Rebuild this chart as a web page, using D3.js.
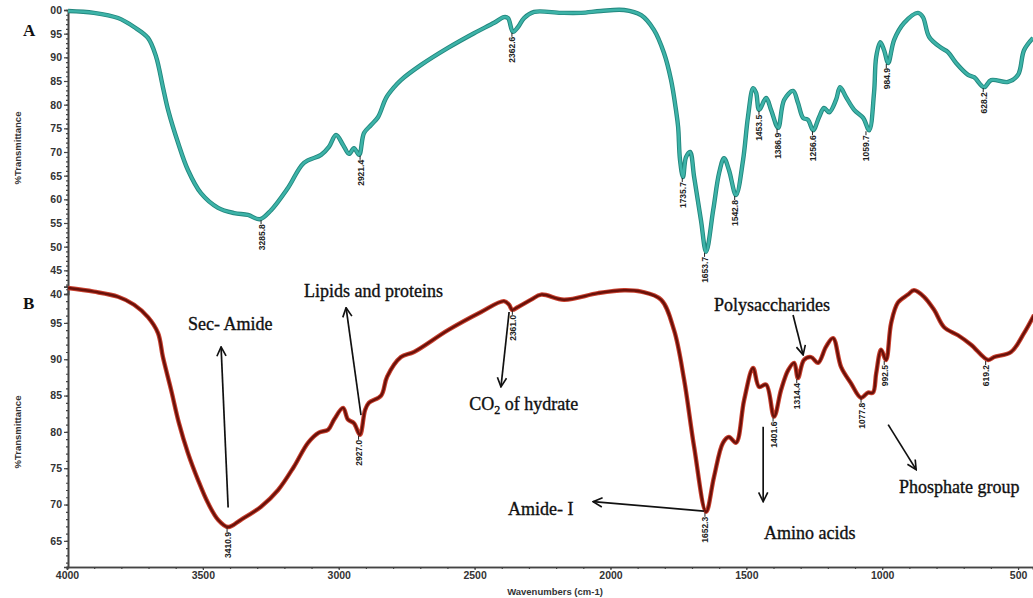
<!DOCTYPE html>
<html>
<head>
<meta charset="utf-8">
<script src="https://cdn.jsdelivr.net/npm/d3@7"></script>
<style>
  body { margin: 0; background: #fff; }
  svg { display: block; }
</style>
</head>
<body>
<div id="chart"></div>
<script>
// spectrum A : [wavenumber, %T]
const spectrumA = [
  [3996,99.8],[3901,99.4],[3812,98.3],[3753,96.4],[3702,94.1],[3672,90.1],[3647,83.7],[3628,78.9],
  [3591,71.9],[3555,66.2],[3507,61.3],[3444,58.2],[3385,57.1],[3334,56.7],[3290,55.8],[3249,57.7],
  [3187,62.4],[3128,67.7],[3065,69.4],[3036,71.1],[3010,73.6],[2984,71.5],[2962,69.6],[2944,70.8],
  [2925,69.4],[2907,74.0],[2881,75.7],[2855,77.4],[2826,81.4],[2796,83.7],[2771,85.2],[2697,88.4],
  [2598,92.0],[2502,95.1],[2428,97.3],[2392,98.5],[2377,98.3],[2359,95.4],[2340,96.4],[2318,98.3],
  [2281,99.6],[2182,99.4],[2108,99.4],[2035,99.8],[1950,100],[1887,98.9],[1840,95.8],[1803,90.9],
  [1777,85.2],[1759,78.9],[1751,75.3],[1744,68.3],[1733,64.7],[1722,68.9],[1707,70.0],[1692,64.7],
  [1667,55.6],[1648,48.9],[1622,57.7],[1600,65.6],[1582,68.7],[1564,66.2],[1538,60.9],[1512,68.3],
  [1494,77.4],[1475,83.5],[1464,82.5],[1453,78.9],[1427,81.4],[1409,78.9],[1383,75.1],[1361,81.0],
  [1328,82.9],[1310,80.4],[1291,77.2],[1273,76.8],[1254,74.6],[1232,77.4],[1214,79.3],[1195,78.4],
  [1170,81.0],[1155,83.7],[1133,81.6],[1103,78.9],[1070,77.2],[1048,74.6],[1030,82.5],[1022,90.1],
  [1007,93.2],[993,91.5],[978,88.8],[956,93.7],[919,97.3],[868,99.4],[850,98.5],[827,94.3],
  [783,92.0],[758,91.1],[728,88.8],[684,86.3],[662,85.8],[625,83.7],[599,85.2],[537,84.8],
  [500,86.3],[478,91.5],[445,94.1]
];

// spectrum B : [wavenumber, %T]
const spectrumB = [
  [3996,99.8],[3901,99.3],[3812,98.6],[3753,97.5],[3702,95.8],[3665,93.6],[3647,90.3],[3617,85.8],
  [3588,81.2],[3555,77.1],[3518,73.4],[3481,70.2],[3444,67.9],[3407,66.9],[3360,67.9],[3286,69.7],
  [3223,72.0],[3165,75.2],[3113,78.5],[3073,79.9],[3039,80.3],[3017,81.7],[2984,83.3],[2966,81.7],
  [2944,81.2],[2922,79.6],[2903,83.0],[2889,84.0],[2844,85.0],[2822,87.6],[2771,90.3],[2723,91.0],
  [2598,94.0],[2476,96.5],[2392,98.0],[2373,97.5],[2362,96.8],[2340,97.2],[2292,98.2],[2255,98.9],
  [2171,98.2],[2046,99.1],[1950,99.5],[1887,99.3],[1814,98.2],[1766,94.0],[1729,87.2],[1692,77.9],
  [1648,69.0],[1619,73.8],[1586,78.5],[1564,79.3],[1538,78.5],[1508,84.4],[1475,88.8],[1453,86.2],
  [1427,86.5],[1398,82.1],[1372,85.8],[1346,88.5],[1324,89.5],[1310,87.4],[1288,89.9],[1262,90.3],
  [1236,89.5],[1207,91.7],[1181,92.9],[1151,88.9],[1115,86.7],[1078,84.7],[1052,85.4],[1034,85.4],
  [1022,88.1],[1004,91.3],[986,89.9],[967,95.0],[942,97.8],[905,98.9],[883,99.5],[846,98.6],
  [809,96.8],[772,94.4],[721,93.3],[673,92.0],[610,89.9],[588,90.3],[526,91.0],[478,93.6],[441,96.1]
];

// labelled minima : [wavenumber, %T]
const peaksA = [
  [3285.8,55.8],[2921.4,69.4],[2362.6,95.4],[1735.7,64.7],[1653.7,48.9],[1542.8,60.9],
  [1453.5,78.9],[1386.9,75.1],[1256.6,74.6],[1059.7,74.6],[984.9,88.8],[628.2,83.7]
];
const peaksB = [
  [3410.9,66.9],[2927.0,79.6],[2361.0,96.8],[1652.3,69.0],[1401.6,82.1],[1314.4,87.4],
  [1077.8,84.7],[992.5,89.9],[619.2,89.9]
];

// annotations on B : label, text position, arrow from, arrow to  (wavenumber, %T)
const notesB = [
  {text: "Sec- Amide",          at: [3555, 94.0], from: [3407, 69.6], to: [3433, 91.7]},
  {text: "Lipids and proteins", at: [3128, 98.6], from: [2918, 82.3], to: [2973, 97.1]},
  {text: "CO2 of hydrate",      at: [2520, 83.0], from: [2373, 96.5], to: [2403, 86.2]},
  {text: "Amide- I",            at: [2377, 68.6], from: [1656, 69.1], to: [2064, 70.4]},
  {text: "Amino acids",         at: [1435, 65.2], from: [1438, 80.7], to: [1438, 70.4]},
  {text: "Polysaccharides",     at: [1619, 96.7], from: [1328, 96.1], to: [1291, 90.6]},
  {text: "Phosphate group",     at: [938, 71.6],  from: [978, 81.0],  to: [875, 74.8]}
];

const xMajor = d3.range(500, 4001, 500);
const xMinor = d3.range(500, 4001, 100);
const yTicksA = d3.range(40, 101, 5);
const yTicksB = d3.range(65, 96, 5);

const W = 1033, H = 598;
const svg = d3.select("#chart").append("svg")
    .attr("width", W)
    .attr("height", H);

const x = d3.scaleLinear().domain([4000, 445]).range([67, 1033]);
const yA = d3.scaleLinear().domain([40, 100]).range([294, 10]);
const yB = d3.scaleLinear().domain([61.4, 100]).range([567, 286.6]);

const tickFont = "'Liberation Sans', Arial, sans-serif";
const serif = "'Liberation Serif', 'Times New Roman', serif";

// ---- axes
function styleAxis(g) {
    g.select(".domain").attr("stroke", "#444").attr("stroke-width", 1.6);
    g.selectAll(".tick line").attr("stroke", "#444").attr("stroke-width", 1.2);
    g.selectAll(".tick text")
        .attr("font-family", tickFont)
        .attr("font-weight", "bold")
        .attr("font-size", 10.5)
        .attr("fill", "#333");
}

// y axis A
svg.append("g")
    .attr("transform", "translate(68,0)")
    .call(d3.axisLeft(yA).tickValues(d3.range(40, 101, 1)).tickSize(2).tickFormat(""))
    .call(styleAxis);
svg.append("g")
    .attr("transform", "translate(68,0)")
    .call(d3.axisLeft(yA).tickValues(yTicksA).tickSize(4).tickPadding(2)
        .tickFormat(d => d === 100 ? "00" : d))
    .call(styleAxis);

// y axis B
svg.append("g")
    .attr("transform", "translate(68,0)")
    .call(d3.axisLeft(yB).tickValues(d3.range(62, 101, 1)).tickSize(2).tickFormat(""))
    .call(styleAxis);
svg.append("g")
    .attr("transform", "translate(68,0)")
    .call(d3.axisLeft(yB).tickValues(yTicksB).tickSize(4).tickPadding(2))
    .call(styleAxis);

// x axis
svg.append("g")
    .attr("transform", "translate(0,567)")
    .call(d3.axisBottom(x).tickValues(xMinor).tickSize(2).tickFormat(""))
    .call(styleAxis);
svg.append("g")
    .attr("transform", "translate(0,567)")
    .call(d3.axisBottom(x).tickValues(xMajor).tickSize(3).tickPadding(2).tickFormat(d3.format("d")))
    .call(styleAxis);

// axis titles
svg.append("text")
    .attr("x", 555).attr("y", 595)
    .attr("text-anchor", "middle")
    .attr("font-family", tickFont).attr("font-weight", "bold")
    .attr("font-size", 9.5).attr("fill", "#333")
    .text("Wavenumbers (cm-1)");

[148, 432].forEach(mid => {
    svg.append("text")
        .attr("transform", `translate(21,${mid}) rotate(-90)`)
        .attr("text-anchor", "middle")
        .attr("font-family", tickFont).attr("font-weight", "bold")
        .attr("font-size", 9.5).attr("fill", "#333")
        .text("%Transmittance");
});

// panel letters
[["A", 36], ["B", 309]].forEach(([t, yy]) => {
    svg.append("text")
        .attr("x", 23).attr("y", yy)
        .attr("font-family", serif).attr("font-weight", "bold")
        .attr("font-size", 17).attr("fill", "#111")
        .text(t);
});

// ---- spectra
function drawSpectrum(data, y, outer, inner, wOuter, wInner) {
    const line = d3.line()
        .x(d => x(d[0]))
        .y(d => y(d[1]))
        .curve(d3.curveCatmullRom.alpha(0.5));
    svg.append("path").datum(data)
        .attr("fill", "none").attr("stroke", outer)
        .attr("stroke-width", wOuter).attr("stroke-linejoin", "round")
        .attr("d", line);
    svg.append("path").datum(data)
        .attr("fill", "none").attr("stroke", inner)
        .attr("stroke-width", wInner).attr("stroke-linejoin", "round")
        .attr("d", line);
}
drawSpectrum(spectrumA, yA, "#22877e", "#3db3a8", 4.4, 2.6);
drawSpectrum(spectrumB, yB, "#c8402f", "#6a1109", 4.4, 2.4);

// ---- peak labels
function peakLabels(peaks, y, fmt) {
    const g = svg.append("g");
    peaks.forEach(p => {
        const px = x(p[0]), py = y(p[1]);
        g.append("line")
            .attr("x1", px).attr("x2", px)
            .attr("y1", py + 1).attr("y2", py + 5)
            .attr("stroke", "#222").attr("stroke-width", 1);
        g.append("text")
            .attr("transform", `translate(${px + 3.5},${py + 5}) rotate(-90)`)
            .attr("text-anchor", "end")
            .attr("font-family", "'Liberation Sans Narrow', 'Liberation Sans', sans-serif")
            .attr("font-weight", "bold")
            .attr("font-size", 8.5)
            .attr("fill", "#222")
            .text(fmt(p[0]));
    });
}
peakLabels(peaksA, yA, d3.format(".1f"));
peakLabels(peaksB, yB, d3.format(".1f"));

// ---- annotations
svg.append("defs").append("marker")
    .attr("id", "arrow")
    .attr("viewBox", "0 0 12 12")
    .attr("refX", 11).attr("refY", 6)
    .attr("markerWidth", 11).attr("markerHeight", 11)
    .attr("markerUnits", "userSpaceOnUse")
    .attr("orient", "auto")
    .append("path")
    .attr("d", "M1,1 L11,6 L1,11")
    .attr("fill", "none").attr("stroke", "#111").attr("stroke-width", 1.8);

notesB.forEach(n => {
    svg.append("line")
        .attr("x1", x(n.from[0])).attr("y1", yB(n.from[1]))
        .attr("x2", x(n.to[0])).attr("y2", yB(n.to[1]))
        .attr("stroke", "#111").attr("stroke-width", 1.7)
        .attr("marker-end", "url(#arrow)");

    const t = svg.append("text")
        .attr("x", x(n.at[0])).attr("y", yB(n.at[1]))
        .attr("font-family", serif)
        .attr("font-size", 18)
        .attr("fill", "#111")
        .attr("stroke", "#111").attr("stroke-width", 0.35);
    if (n.text.startsWith("CO2")) {
        t.append("tspan").text("CO");
        t.append("tspan").attr("font-size", 12).attr("dy", 4).text("2");
        t.append("tspan").attr("dy", -4).text(" of hydrate");
    } else {
        t.text(n.text);
    }
});
</script>
</body>
</html>
